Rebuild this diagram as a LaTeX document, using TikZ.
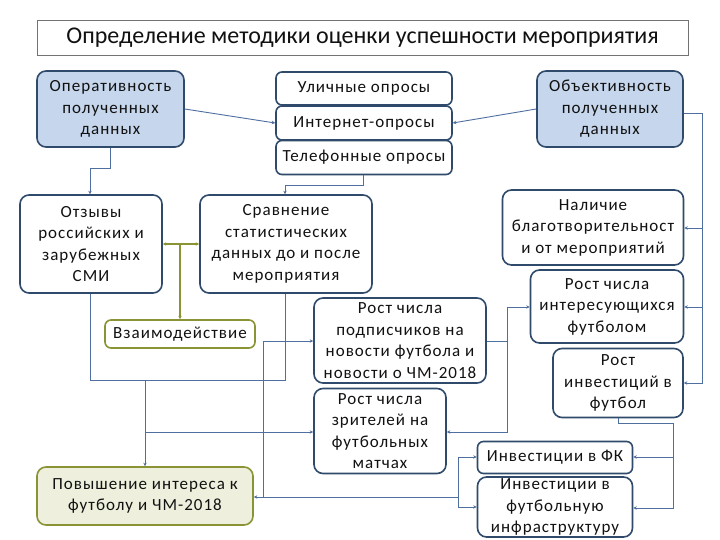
\documentclass[tikz,border=0pt]{standalone}
\usepackage{fontspec}
\setmainfont[LetterSpace=6]{Carlito}
\newfontfamily\titlefont{Carlito}
\usetikzlibrary{arrows.meta}
\definecolor{lineblue}{HTML}{4F6FA0}
\definecolor{boxedge}{HTML}{2F4A6A}
\definecolor{bluefill}{HTML}{C6D6EC}
\definecolor{olive}{HTML}{8B9434}
\definecolor{olivefill}{HTML}{EEF0DD}
\definecolor{txt}{HTML}{111111}
\tikzset{
  box/.style={draw=boxedge, line width=1.6pt, rounded corners=9pt, fill=white, align=center,
    inner sep=0pt, text=txt, font=\fontsize{17}{21.5}\selectfont},
  smallbox/.style={box, rounded corners=6pt},
  bluebox/.style={box, fill=bluefill},
  olivebox/.style={box, draw=olive, fill=olivefill},
  conn/.style={draw=lineblue, line width=0.9pt, -{Stealth[length=3.5pt,width=3.5pt]}},
  plain/.style={draw=lineblue, line width=0.9pt},
  gconn/.style={draw=olive, line width=1.1pt, -{Stealth[length=3.5pt,width=3.5pt]}},
}
\begin{document}
\begin{tikzpicture}[x=1pt,y=-1pt]
\useasboundingbox (0,0) rectangle (720,540);
\fill[white] (0,0) rectangle (720,540);
% title
\node[draw=black!55, line width=0.7pt, minimum width=651pt, minimum height=35pt, inner sep=0pt,
  text=txt, font=\titlefont\fontsize{24}{28}\selectfont] (title) at (362.5,37.5) {Определение методики оценки успешности мероприятия};
% nodes
\node[bluebox, minimum width=147pt, minimum height=76pt] (oper) at (110.5,109) {Оперативность\\полученных\\данных};
\node[smallbox, minimum width=176pt, minimum height=33pt] (ulich) at (364,88.5) {Уличные опросы};
\node[smallbox, minimum width=176pt, minimum height=34pt] (inet) at (364,123) {Интернет-опросы};
\node[smallbox, minimum width=176pt, minimum height=34pt] (tel) at (364,157.5) {Телефонные опросы};
\node[bluebox, minimum width=146pt, minimum height=76pt] (obj) at (610,109) {Объективность\\полученных\\данных};
\node[box, minimum width=142pt, minimum height=98pt] (otz) at (91,244) {Отзывы\\российских и\\зарубежных\\СМИ};
\node[box, minimum width=172pt, minimum height=98pt] (sravn) at (286,244) {Сравнение\\статистических\\данных до и после\\мероприятия};
\node[smallbox, draw=olive, fill=white, minimum width=150pt, minimum height=28pt] (vzaim) at (180,334) {Взаимодействие};
\node[box, minimum width=172pt, minimum height=85pt] (podp) at (400,340.5) {Рост числа\\подписчиков на\\новости футбола и\\новости о ЧМ-2018};
\node[box, minimum width=132pt, minimum height=85pt] (zrit) at (380,431) {Рост числа\\зрителей на\\футбольных\\матчах};
\node[olivebox, minimum width=216pt, minimum height=58pt] (povysh) at (145,496) {Повышение интереса к\\футболу и ЧМ-2018};
\node[box, minimum width=181pt, minimum height=75pt] (nalich) at (593,227.5) {Наличие\\благотворительност\\и от мероприятий};
\node[box, minimum width=153pt, minimum height=73pt] (inter) at (607,306.5) {Рост числа\\интересующихся\\футболом};
\node[box, minimum width=130pt, minimum height=69pt] (rostinv) at (618,383) {Рост\\инвестиций в\\футбол};
\node[smallbox, minimum width=155pt, minimum height=32pt] (invfk) at (555,457.5) {Инвестиции в ФК};
\node[box, minimum width=155pt, minimum height=60pt] (infra) at (555,507) {Инвестиции в\\футбольную\\инфраструктуру};
% coordinates
\coordinate (a1) at (110,168);
\coordinate (a2) at (90,168);
\coordinate (b1) at (363,185);
\coordinate (b2) at (285,185);
\coordinate (g1) at (180,244);
\coordinate (c1) at (90,380);
\coordinate (c2) at (285,380);
\coordinate (c3) at (145,380);
\coordinate (c4) at (145,432);
\coordinate (d1) at (263,341);
\coordinate (d2) at (263,497);
\coordinate (d3) at (458,497);
\coordinate (d4) at (458,457);
\coordinate (d5) at (458,507);
\coordinate (e1) at (702,113);
\coordinate (e2) at (702,228);
\coordinate (e3) at (702,307);
\coordinate (e4) at (702,383);
\coordinate (f1) at (507,341);
\coordinate (f2) at (507,307);
\coordinate (f3) at (507,432);
\coordinate (h1) at (618,423);
\coordinate (h2) at (673,423);
\coordinate (h3) at (673,457);
\coordinate (h4) at (673,508);
% connectors
\draw[conn] (oper.east) -- (inet.west);
\draw[conn] (obj.west) -- (inet.east);
\draw[conn] (oper.south -| a1) -- (a1) -- (a2) -- (otz.north -| a2);
\draw[conn] (tel.south -| b1) -- (b1) -- (b2) -- (sravn.north -| b2);
\draw[gconn] (g1) -- (otz.east |- g1);
\draw[gconn] (g1) -- (sravn.west |- g1);
\draw[gconn] (g1) -- (vzaim.north -| g1);
\draw[plain] (otz.south -| c1) -- (c1) -- (c2) -- (sravn.south -| c2);
\draw[conn] (c3) -- (povysh.north -| c3);
\draw[conn] (c4) -- (zrit.west |- c4);
\draw[conn] (d1) -- (podp.west |- d1);
\draw[conn] (d1) -- (d2) -- (povysh.east |- d2);
\draw[plain] (d2) -- (d3);
\draw[conn] (d3) -- (d4) -- (invfk.west |- d4);
\draw[conn] (d3) -- (d5) -- (infra.west |- d5);
\draw[conn] (obj.east |- e1) -- (e1) -- (e4) -- (rostinv.east |- e4);
\draw[conn] (e2) -- (nalich.east |- e2);
\draw[conn] (e3) -- (inter.east |- e3);
\draw[plain] (podp.east |- f1) -- (f1);
\draw[conn] (f1) -- (f2) -- (inter.west |- f2);
\draw[conn] (f1) -- (f3) -- (zrit.east |- f3);
\draw[conn] (rostinv.south -| h1) -- (h1) -- (h2) -- (h3) -- (invfk.east |- h3);
\draw[conn] (h3) -- (h4) -- (infra.east |- h4);
\end{tikzpicture}
\end{document}
